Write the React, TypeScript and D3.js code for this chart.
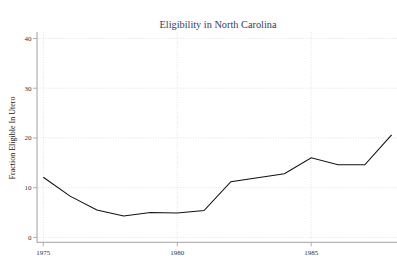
import React from "react";
import * as d3 from "d3";

const years = [1975, 1976, 1977, 1978, 1979, 1980, 1981, 1982, 1983, 1984, 1985, 1986, 1987, 1988];
const values = [12.1, 8.3, 5.5, 4.3, 5.0, 4.9, 5.4, 11.2, 12.0, 12.8, 16.0, 14.6, 14.6, 20.6];
const xTicks = [1975, 1980, 1985];
const yTicks = [0, 10, 20, 30, 40];
const title = "Eligibility in North Carolina";
const yLabel = "Fraction Eligible In Utero";

export default function App() {
  const W = 397, H = 260;
  const x = d3.scaleLinear().domain([1975, 1988]).range([43.3, 391.6]);
  const y = d3.scaleLinear().domain([0, 40]).range([237.4, 38.5]);
  const line = d3.line<number>().x((_, i) => x(years[i])).y((d) => y(d));
  const font = "'Liberation Serif', 'Times New Roman', serif";
  const axisCol = "#a0a0a0";
  const gridCol = "#d8d8d8";
  const top = 32, bottom = 242.3, left = 37, right = 397;
  return (
    <svg width={W} height={H} style={{ position: "absolute", left: 0, top: 0 }} fontFamily={font}>
      <rect width={W} height={H} fill="#fff" />
      {yTicks.map((t) => (
        <line key={"gy" + t} x1={left + 1} x2={right} y1={y(t)} y2={y(t)} stroke={gridCol} strokeWidth={0.7} strokeDasharray="1,1.5" />
      ))}
      {xTicks.map((t) => (
        <line key={"gx" + t} x1={x(t)} x2={x(t)} y1={top} y2={bottom - 1} stroke={gridCol} strokeWidth={0.7} strokeDasharray="1,1.5" />
      ))}
      <line x1={left} x2={left} y1={top} y2={bottom} stroke={axisCol} strokeWidth={1} />
      <line x1={left} x2={right} y1={bottom} y2={bottom} stroke={axisCol} strokeWidth={1} />
      {yTicks.map((t) => (
        <g key={"ty" + t}>
          <line x1={left - 4} x2={left} y1={y(t)} y2={y(t)} stroke={axisCol} strokeWidth={0.8} />
          <text x={left - 5.5} y={y(t)} dy="0.35em" textAnchor="end" fontSize={7} fill="#333">{t}</text>
        </g>
      ))}
      {xTicks.map((t) => (
        <g key={"tx" + t}>
          <line x1={x(t)} x2={x(t)} y1={bottom} y2={bottom + 4} stroke={axisCol} strokeWidth={0.8} />
          <text x={x(t)} y={bottom + 13} textAnchor="middle" fontSize={7} fill="#333">{t}</text>
        </g>
      ))}
      <path d={line(values) || ""} fill="none" stroke="#111" strokeWidth={1.1} />
      <text x={218} y={28} textAnchor="middle" fontSize={10.3} fill="#2e4168">{title}</text>
      <text transform={`translate(14.5,138) rotate(-90)`} textAnchor="middle" fontSize={8} fill="#222">{yLabel}</text>
    </svg>
  );
}
